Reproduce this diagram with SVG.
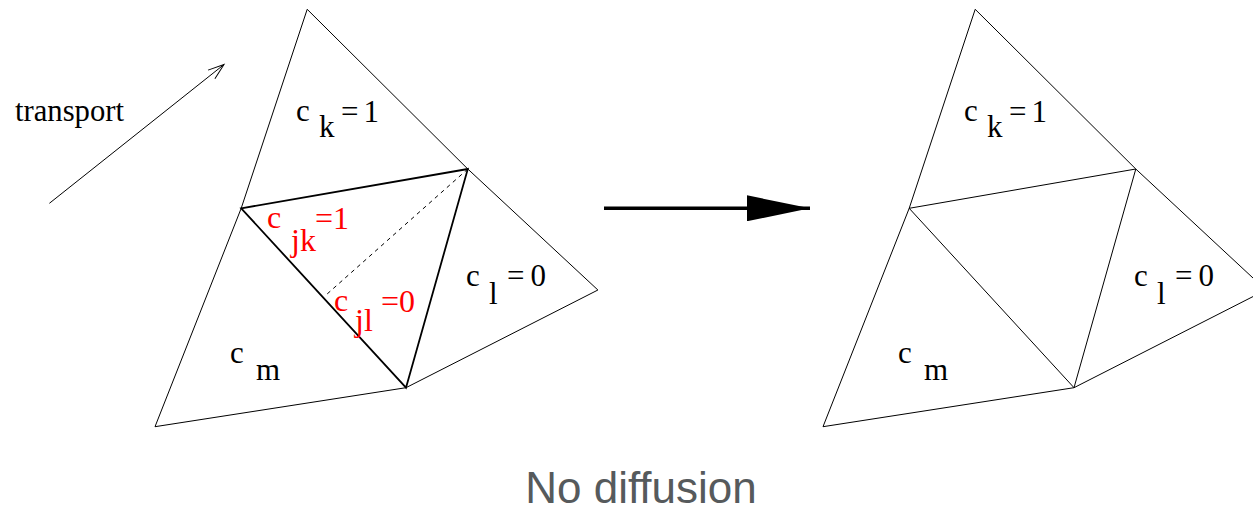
<svg xmlns="http://www.w3.org/2000/svg" width="1253" height="510" viewBox="0 0 1253 510">
<style>
.thin{fill:none;stroke:#000;stroke-width:1;stroke-linejoin:miter}
.thick{fill:none;stroke:#000;stroke-width:1.8}
.dash{fill:none;stroke:#000;stroke-width:1;stroke-dasharray:4 4}
.lbl{font-family:"Liberation Serif","Times New Roman",serif;font-size:31px;fill:#000}
.red{font-family:"Liberation Serif","Times New Roman",serif;font-size:32px;fill:#ff0000}
.cap{font-family:"Liberation Sans",Arial,sans-serif;font-size:44px;fill:#565a5c}
</style>
<defs>
<marker id="open" markerUnits="userSpaceOnUse" markerWidth="20" markerHeight="16" refX="18" refY="8" orient="auto" viewBox="0 0 20 16">
<path d="M2,2.5 L18,8 L2,13.5" fill="none" stroke="#000" stroke-width="1"/>
</marker>
<marker id="solid" markerUnits="userSpaceOnUse" markerWidth="64" markerHeight="26" refX="63.3" refY="13" orient="auto" viewBox="0 0 64 26">
<path d="M0,0 L63.3,13 L0,26 Z" fill="#000"/>
</marker>
</defs>
<g id="left-mesh">
<polygon class="thin" points="307.2,9.3 467.8,169 597.9,290 406,387.7 155,426.7 241.2,208.3"/>
<line class="dash" x1="467.8" y1="169" x2="324.3" y2="296.5"/>
<polygon class="thick" points="241.2,208.3 467.8,169 406,387.7"/>
</g>
<g id="right-mesh">
<polygon class="thin" points="975.2,9.3 1135.8,169 1265.9,290 1074,387.7 823,426.7 909.2,208.3"/>
<polygon class="thin" points="909.2,208.3 1135.8,169 1074,387.7"/>
</g>
<g id="connectors">
<line class="thin" x1="49.4" y1="203.3" x2="224" y2="64.5" marker-end="url(#open)"/>
<line x1="604" y1="208.3" x2="810" y2="208.3" stroke="#000" stroke-width="3.5" marker-end="url(#solid)"/>
</g>
<g id="labels-left">
<text class="lbl" x="15" y="121" font-size="30" textLength="109" lengthAdjust="spacingAndGlyphs">transport</text>
<text class="lbl" x="296" y="121">c</text>
<text class="lbl" x="319" y="137">k</text>
<text class="lbl" x="341" y="122" textLength="38" lengthAdjust="spacing">= 1</text>
<text class="lbl" x="466" y="286">c</text>
<text class="lbl" x="489" y="304">l</text>
<text class="lbl" x="507" y="286" textLength="39" lengthAdjust="spacing">= 0</text>
<text class="lbl" x="230" y="363">c</text>
<text class="lbl" x="256" y="380">m</text>
<text class="red" x="267" y="228">c</text>
<text class="red" x="291" y="251">jk</text>
<text class="red" x="315" y="229">=1</text>
<text class="red" x="334" y="311">c</text>
<text class="red" x="355" y="331">jl</text>
<text class="red" x="381" y="312">=0</text>
</g>
<g id="labels-right">
<text class="lbl" x="964" y="121">c</text>
<text class="lbl" x="987" y="137">k</text>
<text class="lbl" x="1009" y="122" textLength="38" lengthAdjust="spacing">= 1</text>
<text class="lbl" x="1134" y="286">c</text>
<text class="lbl" x="1157" y="304">l</text>
<text class="lbl" x="1175" y="286" textLength="39" lengthAdjust="spacing">= 0</text>
<text class="lbl" x="898" y="363">c</text>
<text class="lbl" x="924" y="380">m</text>
</g>
<text class="cap" x="641" y="503" text-anchor="middle">No diffusion</text>
</svg>
